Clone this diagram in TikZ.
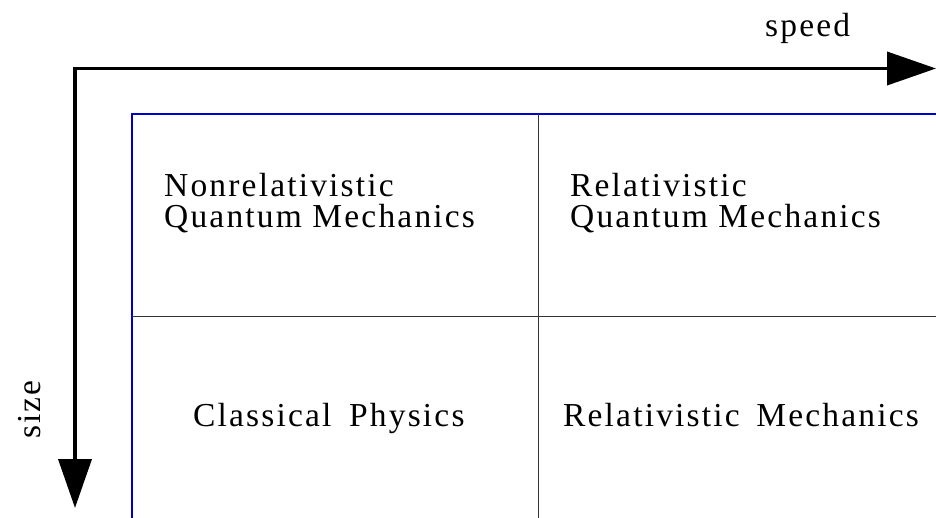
\documentclass[tikz,border=0pt]{standalone}
\usepackage{fontspec}
\setmainfont{Liberation Serif}[LetterSpace=6.5]
\usetikzlibrary{arrows.meta}
\definecolor{axisblue}{RGB}{0,0,205}
\begin{document}
\begin{tikzpicture}[x=1pt,y=-1pt,
  axis/.style={line width=3.8pt,line join=miter,
    {Triangle[length=49pt,width=33pt]}-{Triangle[length=49pt,width=33pt]}},
  frame/.style={draw=axisblue,line width=2.4pt,line join=miter},
  grid/.style={draw=black!80,line width=0.9pt},
  lbl/.style={inner sep=0pt,font=\fontsize{33.5}{31}\selectfont,align=left,anchor=base west}]
\useasboundingbox (0,0) rectangle (936,518);
% axes
\coordinate (origin) at (75,68.5);
\coordinate (xtip) at (936,68.5);
\coordinate (ytip) at (75,508);
\draw[axis] (ytip) -- (origin) -- (xtip);
% blue frame
\coordinate (fbl) at (132,518);
\coordinate (ftl) at (132,114);
\coordinate (ftr) at (936,114);
\draw[frame] (fbl) -- (ftl) -- (ftr);
% grid
\coordinate (hl) at (132,316);
\coordinate (hr) at (936,316);
\coordinate (vt) at (538,114);
\coordinate (vb) at (538,518);
\draw[grid] (hl) -- (hr);
\draw[grid] (vt) -- (vb);
% labels
\node[lbl] (speed) at (765,37) {speed};
\node[lbl,rotate=90] (size) at (40,439) {size};
\node[lbl] (nrqm) at (164,227.5) {Nonrelativistic\\Quantum Mechanics};
\node[lbl] (rqm) at (570,227.5) {Relativistic\\Quantum Mechanics};
\node[lbl] (cp) at (193,426) {Classical\hspace{7pt} Physics};
\node[lbl] (rm) at (563,426) {Relativistic\hspace{6pt} Mechanics};
\end{tikzpicture}
\end{document}
